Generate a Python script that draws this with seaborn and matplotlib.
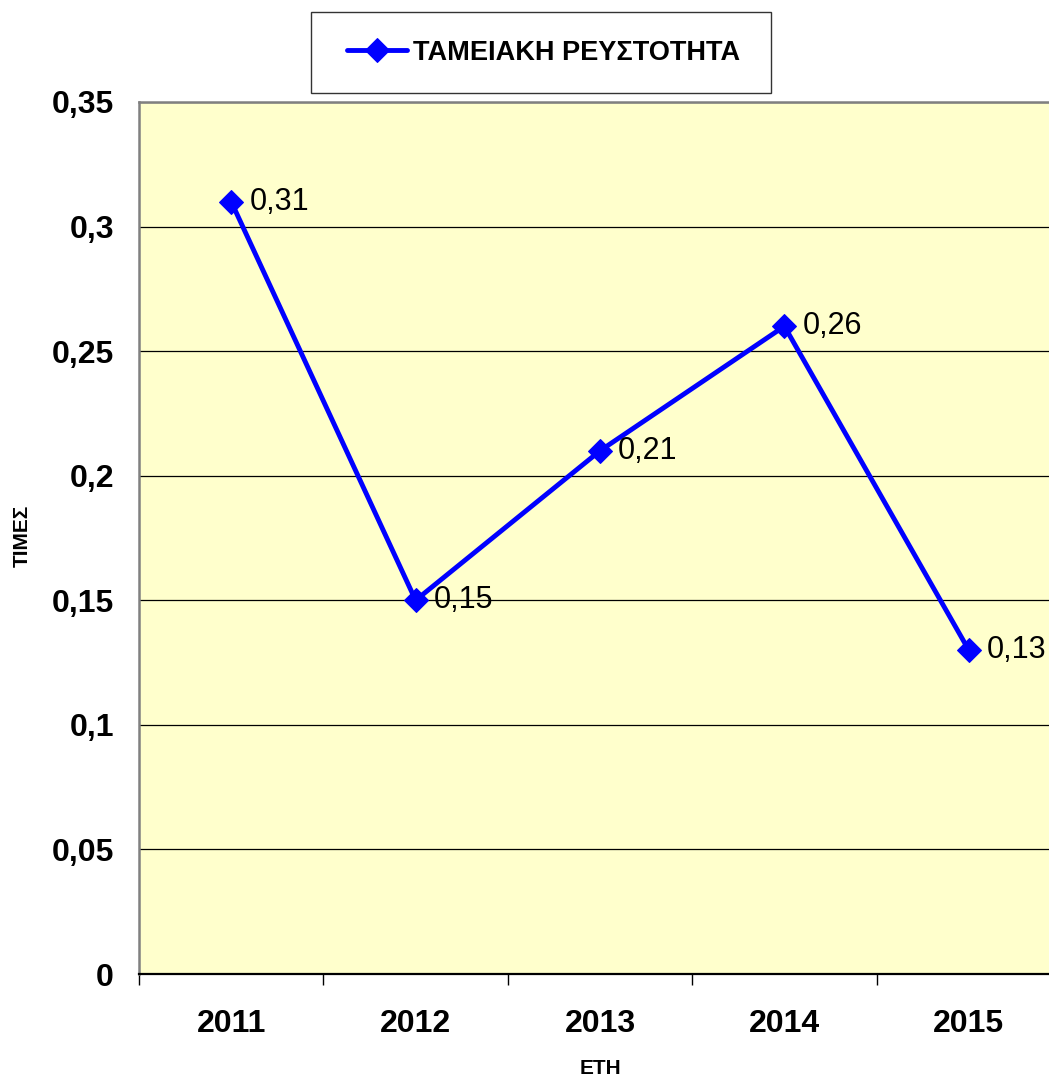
import matplotlib
matplotlib.use("Agg")
import matplotlib.pyplot as plt
import seaborn as sns
import pandas as pd
from matplotlib.patches import Rectangle
from matplotlib.ticker import FixedLocator, NullFormatter, FixedFormatter

# ---- data ----
years = ["2011", "2012", "2013", "2014", "2015"]
values = [0.31, 0.15, 0.21, 0.26, 0.13]
value_labels = ["0,31", "0,15", "0,21", "0,26", "0,13"]
y_ticks = [0, 0.05, 0.1, 0.15, 0.2, 0.25, 0.3, 0.35]
y_tick_labels = ["0", "0,05", "0,1", "0,15", "0,2", "0,25", "0,3", "0,35"]
series_name = "ΤΑΜΕΙΑΚΗ ΡΕΥΣΤΟΤΗΤΑ"
x_title = "ΕΤΗ"
y_title = "ΤΙΜΕΣ"

df = pd.DataFrame({"year": years, "value": values})

sns.set_theme(style="white")
plt.rcParams["font.family"] = ["Liberation Sans", "DejaVu Sans"]
plt.rcParams["text.color"] = "black"
plt.rcParams["axes.labelcolor"] = "black"
plt.rcParams["xtick.color"] = "black"
plt.rcParams["ytick.color"] = "black"

W, H = 1049, 1079
fig = plt.figure(figsize=(W / 100, H / 100), dpi=100)
fig.patch.set_facecolor("white")

left, top, bottom, right = 139, 102, 974, 1061
ax = fig.add_axes([left / W, 1 - bottom / H, (right - left) / W, (bottom - top) / H])
ax.set_facecolor("#FFFFCC")

sns.lineplot(data=df, x="year", y="value", ax=ax, color="#0000FF", linewidth=3.5,
             marker="D", markersize=12, markeredgecolor="#0000FF",
             label=series_name, legend=False, sort=False, zorder=3)

for i, (v, lab) in enumerate(zip(values, value_labels)):
    ax.annotate(lab, (i, v), xytext=(13, 0), textcoords="offset points",
                ha="left", va="center", fontsize=22, color="black", zorder=4)

ax.set_xlim(-0.5, 4.5)
ax.set_ylim(0, 0.35)

# y axis
ax.yaxis.set_major_locator(FixedLocator(y_ticks))
ax.yaxis.set_major_formatter(FixedFormatter(y_tick_labels))
ax.tick_params(axis="y", which="major", direction="out", length=8, width=1,
               color="black", labelcolor="black", pad=10, labelsize=23)
for t in ax.get_yticklabels():
    t.set_fontweight("bold")

# x axis: ticks at boundaries, labels at centers
ax.xaxis.set_major_locator(FixedLocator([-0.5, 0.5, 1.5, 2.5, 3.5, 4.5]))
ax.xaxis.set_major_formatter(NullFormatter())
ax.xaxis.set_minor_locator(FixedLocator(list(range(len(years)))))
ax.xaxis.set_minor_formatter(FixedFormatter(years))
ax.tick_params(axis="x", which="major", direction="out", length=8, width=1,
               color="black", bottom=True)
ax.tick_params(axis="x", which="minor", length=0, pad=25, labelsize=23,
               labelcolor="black")
for t in ax.get_xticklabels(minor=True):
    t.set_fontweight("bold")

# grid
ax.set_axisbelow(True)
ax.yaxis.grid(True, color="black", linewidth=0.9)
ax.xaxis.grid(False)

# spines
for s in ["left", "top", "right"]:
    ax.spines[s].set_color("#808080")
    ax.spines[s].set_linewidth(1.8)
ax.spines["bottom"].set_color("black")
ax.spines["bottom"].set_linewidth(1.6)

# axis titles
ax.set_xlabel(x_title, fontsize=15, fontweight="bold", color="black")
ax.xaxis.set_label_coords(0.5, -0.108)
ax.xaxis.label.set_va("center")
ax.set_ylabel(y_title, fontsize=15, fontweight="bold", color="black")
ax.yaxis.set_label_coords(-0.127, 0.502)
ax.yaxis.label.set_va("center")

# legend box
fig.add_artist(Rectangle((311 / W, 1 - 93 / H), (771 - 311) / W, (93 - 12) / H,
                         transform=fig.transFigure, facecolor="white",
                         edgecolor="#333333", linewidth=1.0, zorder=1))
handles, labels = ax.get_legend_handles_labels()
leg = fig.legend(handles, labels, loc="center left",
                 bbox_to_anchor=(347 / W, 1 - 52.5 / H), frameon=False,
                 prop={"family": ["Liberation Sans", "DejaVu Sans"], "weight": "bold", "size": 19.5},
                 handlelength=2.2, handletextpad=0.25, borderpad=0, borderaxespad=0)
leg.set_zorder(2)
for t in leg.get_texts():
    t.set_color("black")

fig.savefig("out.png", dpi=100, facecolor="white")
